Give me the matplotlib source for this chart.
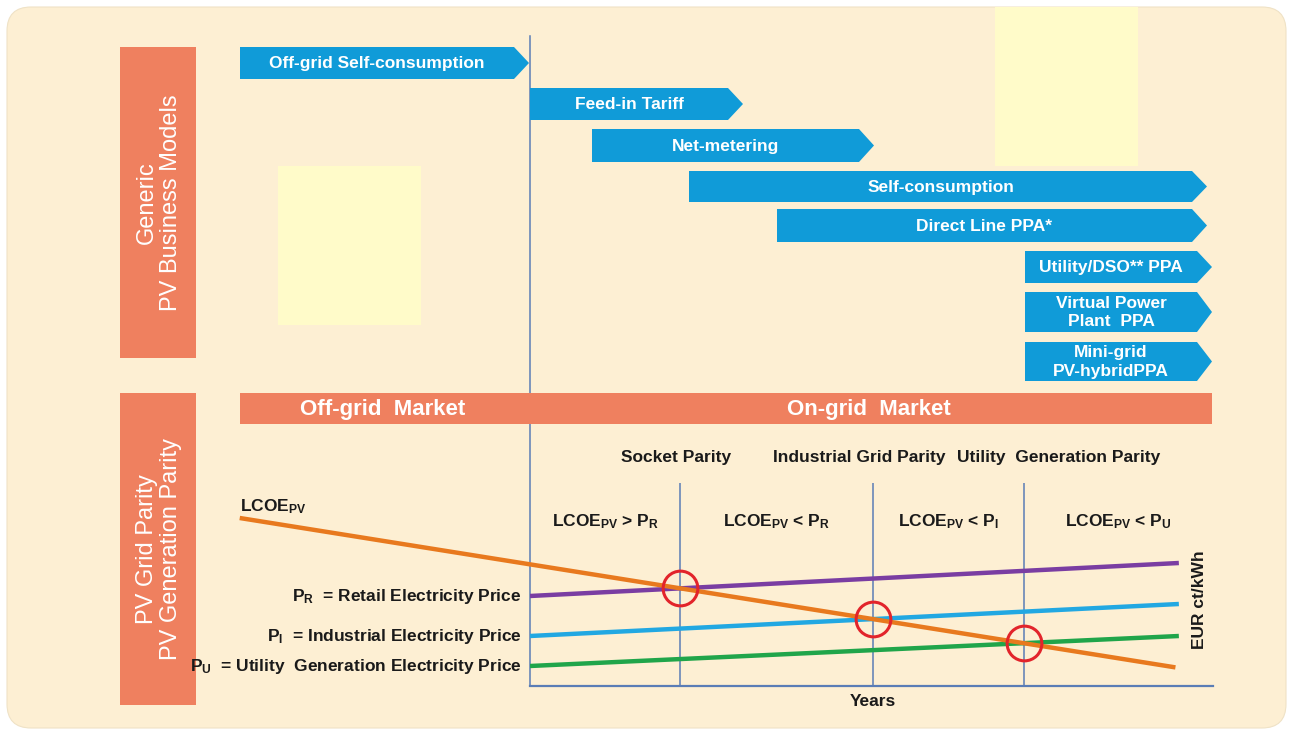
import matplotlib
matplotlib.use("Agg")
import matplotlib.pyplot as plt
from matplotlib.patches import FancyBboxPatch, Rectangle, Polygon

plt.rcParams["font.family"] = ["Liberation Sans", "DejaVu Sans"]
plt.rcParams["mathtext.fontset"] = "custom"
plt.rcParams["mathtext.rm"] = "Liberation Sans:bold"
plt.rcParams["mathtext.it"] = "Liberation Sans:bold"
plt.rcParams["mathtext.bf"] = "Liberation Sans:bold"

# ---------------- business models (timeline spans) ----------------
model_names = [
    "Off-grid Self-consumption",
    "Feed-in Tariff",
    "Net-metering",
    "Self-consumption",
    "Direct Line PPA*",
    "Utility/DSO** PPA",
    "Virtual Power\nPlant  PPA",
    "Mini-grid\nPV-hybridPPA",
]
model_start = [240, 530, 592, 689, 777, 1025, 1025, 1025]
model_end = [514, 728, 859, 1192, 1192, 1197, 1197, 1197]
model_top = [47, 88, 129, 171, 209, 251, 292, 342]
model_bottom = [79, 120, 162, 202, 242, 283, 332, 381]

# ---------------- cost / price trajectories ----------------
price_years = [0.0, 9.5]
retail_price = [9.0, 12.3]
industrial_price = [5.0, 8.2]
utility_price = [2.0, 5.0]
lcoe_years = [-4.25, 9.45]
lcoe_values = [16.8, 1.86]

parity_names = ["Socket Parity", "Industrial Grid Parity", "Utility  Generation Parity"]
region_labels = [
    r"LCOE$_{\mathrm{PV}}$ > P$_{\mathrm{R}}$",
    r"LCOE$_{\mathrm{PV}}$ < P$_{\mathrm{R}}$",
    r"LCOE$_{\mathrm{PV}}$ < P$_{\mathrm{I}}$",
    r"LCOE$_{\mathrm{PV}}$ < P$_{\mathrm{U}}$",
]
price_labels = [
    r"P$_{\mathrm{R}}$  = Retail Electricity Price",
    r"P$_{\mathrm{I}}$  = Industrial Electricity Price",
    r"P$_{\mathrm{U}}$  = Utility  Generation Electricity Price",
]

# ---------------- colours ----------------
PEACH = "#FDEFD3"
PALE_YELLOW = "#FFFBC9"
SALMON = "#EF805F"
ARROW_BLUE = "#109BD8"
AXIS_BLUE = "#5A7DB6"
C_LCOE = "#E8791E"
C_RETAIL = "#7A3DA2"
C_INDUSTRIAL = "#22A8E2"
C_UTILITY = "#20A54A"
C_RING = "#E2242B"

W, H = 1293, 735
fig = plt.figure(figsize=(W / 100, H / 100), dpi=100)
fig.patch.set_facecolor("white")
ax = fig.add_axes([0, 0, 1, 1])
ax.set_xlim(0, W)
ax.set_ylim(H, 0)
ax.axis("off")

# rounded panel background
ax.add_patch(FancyBboxPatch((7, 7), W - 14, H - 14,
                            boxstyle="round,pad=0,rounding_size=24",
                            fc=PEACH, ec="#EFE2C6", lw=0.8, zorder=0))

# pale highlight blocks
ax.add_patch(Rectangle((278, 166), 143, 159, fc=PALE_YELLOW, ec="none", zorder=1))
ax.add_patch(Rectangle((995, 7), 143, 159, fc=PALE_YELLOW, ec="none", zorder=1))

# side captions
ax.add_patch(Rectangle((120, 47), 76, 311, fc=SALMON, ec="none", zorder=2))
ax.add_patch(Rectangle((120, 393), 76, 312, fc=SALMON, ec="none", zorder=2))
ax.text(159, 203, "Generic\nPV Business Models", rotation=90, ha="center",
        va="center", color="white", fontsize=17, linespacing=1.1, zorder=3)
ax.text(159, 549, "PV Grid Parity\nPV Generation Parity", rotation=90, ha="center",
        va="center", color="white", fontsize=17, linespacing=1.1, zorder=3)

# vertical divider between off-grid and on-grid
ax.plot([530, 530], [36, 686], color=AXIS_BLUE, lw=1.1, zorder=2)

# business model arrows
tip = 15
for name, x0, x1, y0, y1 in zip(model_names, model_start, model_end,
                                model_top, model_bottom):
    ym = (y0 + y1) / 2
    ax.add_patch(Polygon([(x0, y0), (x1, y0), (x1 + tip, ym), (x1, y1), (x0, y1)],
                         closed=True, fc=ARROW_BLUE, ec="none", zorder=3))
    ax.text((x0 + x1) / 2, ym + 0.5, name, ha="center", va="center", color="white",
            fontsize=12.5, fontweight="bold", linespacing=1.3, zorder=4)

# market bar
ax.add_patch(Rectangle((240, 393), 972, 31, fc=SALMON, ec="none", zorder=3))
ax.text(383, 409, "Off-grid  Market", ha="center", va="center", color="white",
        fontsize=16, fontweight="bold", zorder=4)
ax.text(869, 409, "On-grid  Market", ha="center", va="center", color="white",
        fontsize=16, fontweight="bold", zorder=4)

# ---------------- parity chart ----------------
x_left, x_right, y_bottom, y_top = 530, 1213, 686, 483
cax = fig.add_axes([x_left / W, (H - y_bottom) / H,
                    (x_right - x_left) / W, (y_bottom - y_top) / H])
cax.set_xlim(0, 10)
cax.set_ylim(0, 20.3)
cax.patch.set_alpha(0)
for s in cax.spines.values():
    s.set_visible(False)
cax.set_xticks([])
cax.set_yticks([])
cax.plot([0, 10], [0, 0], color=AXIS_BLUE, lw=1.6, clip_on=False)


def line_eq(xs, ys):
    slope = (ys[1] - ys[0]) / (xs[1] - xs[0])
    return slope, ys[0] - slope * xs[0]


m_l, b_l = line_eq(lcoe_years, lcoe_values)
crossings = []
for prices in (retail_price, industrial_price, utility_price):
    m_p, b_p = line_eq(price_years, prices)
    xc = (b_p - b_l) / (m_l - m_p)
    crossings.append((xc, m_l * xc + b_l))

for xc, _ in crossings:
    cax.axvline(xc, color=AXIS_BLUE, lw=1.1, zorder=1)

cax.plot(price_years, retail_price, color=C_RETAIL, lw=3.2, zorder=2,
         solid_capstyle="butt")
cax.plot(price_years, industrial_price, color=C_INDUSTRIAL, lw=3.2, zorder=2,
         solid_capstyle="butt")
cax.plot(price_years, utility_price, color=C_UTILITY, lw=3.2, zorder=2,
         solid_capstyle="butt")
cax.plot(lcoe_years, lcoe_values, color=C_LCOE, lw=3.2, zorder=3,
         clip_on=False, solid_capstyle="butt")

cax.plot([c[0] for c in crossings], [c[1] for c in crossings], "o",
         ms=25, mfc="none", mec=C_RING, mew=2.2, zorder=4, clip_on=False)

# price labels at line starts
for label, prices in zip(price_labels, (retail_price, industrial_price, utility_price)):
    cax.text(-0.12, prices[0], label, ha="right", va="center", fontsize=12.5,
             fontweight="bold", color="#1a1a1a", clip_on=False)

cax.text(lcoe_years[0], lcoe_values[0] + 1.1, r"LCOE$_{\mathrm{PV}}$", ha="left",
         va="center", fontsize=12.5, fontweight="bold", color="#1a1a1a",
         clip_on=False)

# regions between parity points
bounds = [0] + [c[0] for c in crossings] + [10]
for i, label in enumerate(region_labels):
    xm = (bounds[i] + bounds[i + 1]) / 2
    cax.text(xm, 16.4, label, ha="center", va="center", fontsize=12.5,
             fontweight="bold", color="#1a1a1a")

# parity headings
for name, xp in zip(parity_names, (676, 859, 1059)):
    ax.text(xp, 457, name, ha="center", va="center", fontsize=12.5,
            fontweight="bold", color="#1a1a1a", zorder=4)

ax.text(873, 702, "Years", ha="center", va="center", fontsize=12.5,
        fontweight="bold", color="#1a1a1a")
ax.text(1199, 600, "EUR ct/kWh", rotation=90, ha="center", va="center",
        fontsize=12.5, fontweight="bold", color="#1a1a1a")

fig.savefig("out.png", dpi=100, facecolor=fig.get_facecolor())
